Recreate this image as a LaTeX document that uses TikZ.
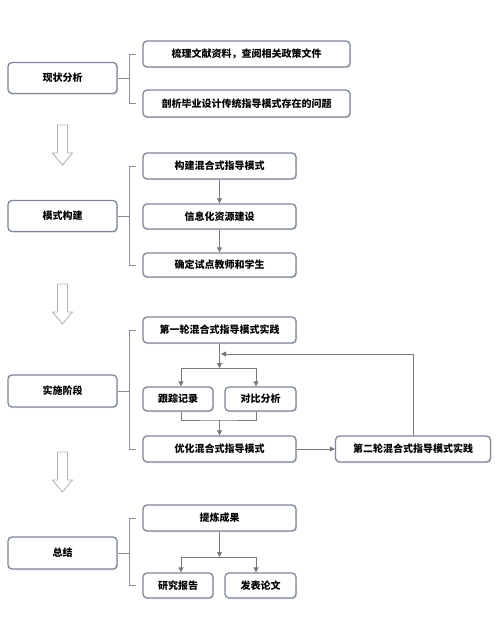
\documentclass[tikz,border=0pt]{standalone}
\usepackage{fontspec}
\setmainfont{Noto Sans CJK SC}
\usetikzlibrary{arrows.meta,shadows}

\begin{document}
\begin{tikzpicture}[x=1pt,y=1pt,yscale=-1,
  box/.style={draw={rgb,255:red,125;green,135;blue,152},line width=1.3pt,rounded corners=4pt,fill=white,
    drop shadow={shadow xshift=1pt,shadow yshift=-1.2pt,fill=black!12,opacity=1},
    inner sep=0pt,font=\fontsize{10}{12}\selectfont\bfseries},
  wide/.style={box,minimum width=153pt,minimum height=26pt},
  half/.style={box,minimum width=71pt,minimum height=25pt},
  lbox/.style={box,minimum width=109pt,minimum height=31pt},
  brk/.style={draw={rgb,255:red,140;green,140;blue,140},line width=0.9pt},
  arr/.style={draw={rgb,255:red,120;green,120;blue,120},line width=0.9pt,-{Triangle[width=5pt,length=5pt]}},
  ln/.style={draw={rgb,255:red,120;green,120;blue,120},line width=0.9pt}]
\useasboundingbox [fill=white] (0,0) rectangle (500,636);
% hollow arrows between the stages
\foreach \t in {125,284,452}
  \draw [draw={rgb,255:red,180;green,180;blue,180},line width=0.9pt,fill=white] (57.5,\t) -- (67.5,\t) -- (67.5,\t+28) -- (72.5,\t+28) -- (62.5,\t+40) -- (52.5,\t+28) -- (57.5,\t+28) -- cycle;
% stage 1
\node [lbox] (s1) at (62.5,78) {现状分析};
\node [box,minimum width=207pt,minimum height=26pt] (s1a) at (246.5,54) {梳理文献资料，查阅相关政策文件};
\node [box,minimum width=207pt,minimum height=27pt] (s1b) at (246.5,103.5) {剖析毕业设计传统指导模式存在的问题};
\draw [brk] ([xshift=-6pt]s1a.west) -| ([xshift=12pt]s1.east) |- ([xshift=-6pt]s1b.west);
\draw [brk] (s1.east) -- ([xshift=12pt]s1.east);
% stage 2
\node [lbox] (s2) at (62.5,216) {模式构建};
\node [wide] (s2a) at (219.5,166) {构建混合式指导模式};
\node [wide,minimum height=25pt] (s2b) at (219.5,216.5) {信息化资源建设};
\node [wide,minimum height=24pt] (s2c) at (219.5,265) {确定试点教师和学生};
\draw [brk] ([xshift=-6pt]s2a.west) -| ([xshift=12pt]s2.east) |- ([xshift=-6pt]s2c.west);
\draw [brk] (s2.east) -- ([xshift=12pt]s2.east);
\draw [arr] (s2a) -- (s2b);
\draw [arr] (s2b) -- (s2c);
% stage 3
\node [lbox,minimum height=32pt] (s3) at (62.5,391) {实施阶段};
\node [wide] (s3a) at (219.5,330) {第一轮混合式指导模式实践};
\node [half,minimum width=70pt,minimum height=24pt] (s3b) at (178,399) {跟踪记录};
\node [half,minimum height=24pt] (s3c) at (260.5,399) {对比分析};
\node [wide] (s3d) at (219.5,449) {优化混合式指导模式};
\node [wide,minimum width=155pt] (s3e) at (413,449) {第二轮混合式指导模式实践};
\draw [brk] ([xshift=-6pt]s3a.west) -| ([xshift=12pt]s3.east) |- ([xshift=-6pt]s3d.west);
\draw [brk] (s3.east) -- ([xshift=12pt]s3.east);
\coordinate (sp3) at (219.5,368);
\coordinate (mg3) at (219.5,420);
\coordinate (fb3) at (221,354);
\draw [arr] (s3a) -- (sp3);
\draw [arr] (sp3) -| ([xshift=3pt]s3b.north);
\draw [arr] (sp3) -| ([xshift=-4.5pt]s3c.north);
\draw [ln] ([xshift=3pt]s3b.south) |- (mg3) -| ([xshift=-4.5pt]s3c.south);
\draw [arr] (mg3) -- (s3d);
\draw [arr] (s3d) -- (s3e);
\draw [arr] (s3e) |- (fb3);
% stage 4
\node [lbox,minimum height=32pt] (s4) at (62.5,553) {总结};
\node [wide] (s4a) at (219.5,518) {提炼成果};
\node [half,minimum width=70pt] (s4b) at (178,585.5) {研究报告};
\node [half] (s4c) at (260.5,585.5) {发表论文};
\draw [brk] ([xshift=-6pt]s4a.west) -| ([xshift=12pt]s4.east) |- ([xshift=-6pt]s4b.west);
\draw [brk] (s4.east) -- ([xshift=12pt]s4.east);
\coordinate (sp4) at (219.5,557);
\draw [arr] (s4a) -- (sp4);
\draw [arr] (sp4) -| ([xshift=3pt]s4b.north);
\draw [arr] (sp4) -| ([xshift=-4.5pt]s4c.north);
\end{tikzpicture}
\end{document}
